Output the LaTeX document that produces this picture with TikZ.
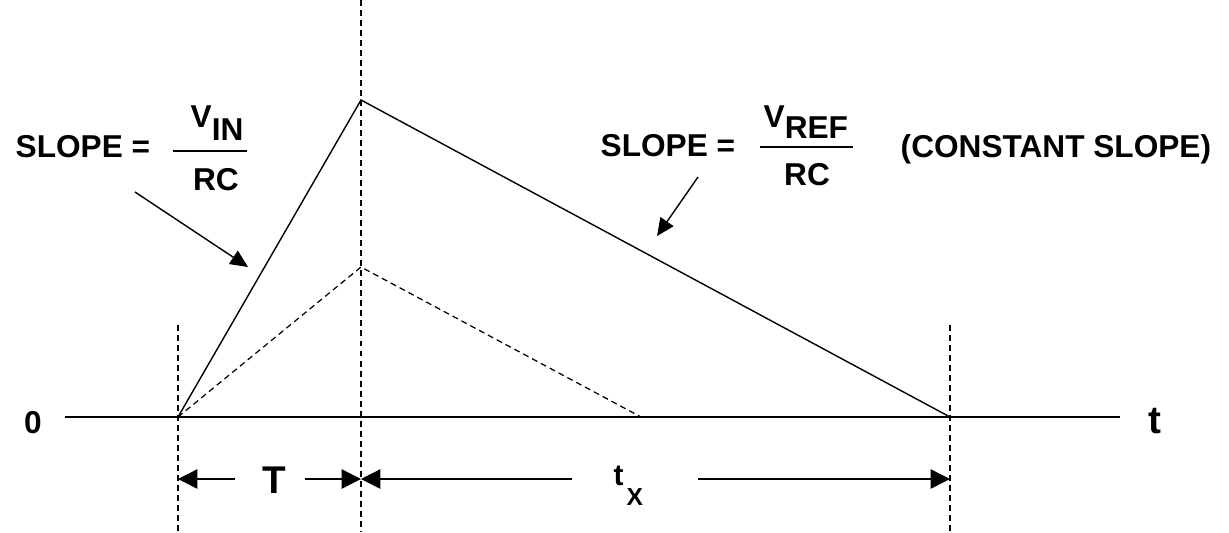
\documentclass[tikz,border=0pt]{standalone}
\usepackage{fontspec}
\setmainfont{Liberation Sans}
\usetikzlibrary{arrows.meta}

\begin{document}
\begin{tikzpicture}[
  x=0.02cm, y=-0.02cm, line width=0.8pt,
  lbl/.style={inner sep=0pt,font=\bfseries\fontsize{18}{20}\selectfont},
  biglbl/.style={inner sep=0pt,font=\bfseries\fontsize{22}{24}\selectfont},
  guide/.style={dash pattern=on 3.4pt off 2.3pt,line width=0.7pt},
  dimarrow/.style={-{Triangle[length=11pt,width=11pt]}},
  slopearrow/.style={-{Triangle[length=10pt,width=9pt]}}
]
  \useasboundingbox (0,0) rectangle (1229,532);
  % waveform
  \coordinate (start) at (178,417);
  \coordinate (peak) at (361,100);
  \coordinate (stop) at (950,417);
  \coordinate (peak2) at (361,267);
  \coordinate (stop2) at (641,417);
  \coordinate (axl) at (65,417);
  \coordinate (axr) at (1120,417);
  \draw (axl) -- (axr);
  \draw (start) -- (peak) -- (stop);
  \draw[guide] (start) -- (peak2) -- (stop2);
  % dashed guides
  \coordinate (g0t) at (178,325);
  \coordinate (g0b) at (178,532);
  \coordinate (g1t) at (361,0);
  \coordinate (g1b) at (361,532);
  \coordinate (g2t) at (950,325);
  \coordinate (g2b) at (950,532);
  \draw[guide] (g0t) -- (g0b);
  \draw[guide] (g1t) -- (g1b);
  \draw[guide] (g2t) -- (g2b);
  \node[lbl,anchor=base] (zero) at (33,433) {0};
  \node[biglbl,anchor=base] (tlab) at (1155,433) {t};
  % dimensions
  \coordinate (d0) at (178,479);
  \coordinate (d1) at (361,479);
  \coordinate (d2) at (950,479);
  \coordinate (ta) at (235,479);
  \coordinate (tb) at (305,479);
  \coordinate (xa) at (572,479);
  \coordinate (xb) at (698,479);
  \node[biglbl,anchor=base] (T) at (274,493) {T};
  \node[inner sep=0pt,anchor=base west,font=\bfseries\fontsize{17}{19}\selectfont] (tx) at (613,485) {t};
  \node[inner sep=0pt,anchor=base west,font=\bfseries\fontsize{14}{16}\selectfont] (txsub) at (626,505) {X};
  \draw[dimarrow] (ta) -- (d0);
  \draw[dimarrow] (tb) -- (d1);
  \draw[dimarrow] (xa) -- (d1);
  \draw[dimarrow] (xb) -- (d2);
  % slope labels
  \node[lbl,anchor=base west] (s1) at (15,157) {SLOPE =};
  \node[lbl,anchor=base west] (n1) at (190,127) {V\raisebox{-7.4pt}{IN}};
  \node[lbl,anchor=base] (r1) at (216,190) {RC};
  \coordinate (f1a) at (173,151);
  \coordinate (f1b) at (247,151);
  \draw (f1a) -- (f1b);
  \node[lbl,anchor=base west] (s2) at (600,156) {SLOPE =};
  \node[lbl,anchor=base west] (n2) at (763,127) {V\raisebox{-6.3pt}{REF}};
  \node[lbl,anchor=base] (r2) at (807,185) {RC};
  \coordinate (f2a) at (760,147);
  \coordinate (f2b) at (853,147);
  \draw (f2a) -- (f2b);
  \node[lbl,anchor=base west] (cs) at (900,157) {(CONSTANT SLOPE)};
  \coordinate (a1s) at (135,192);
  \coordinate (a1e) at (248,267);
  \coordinate (a2s) at (698,177);
  \coordinate (a2e) at (657,236);
  \draw[slopearrow] (a1s) -- (a1e);
  \draw[slopearrow] (a2s) -- (a2e);
\end{tikzpicture}
\end{document}
